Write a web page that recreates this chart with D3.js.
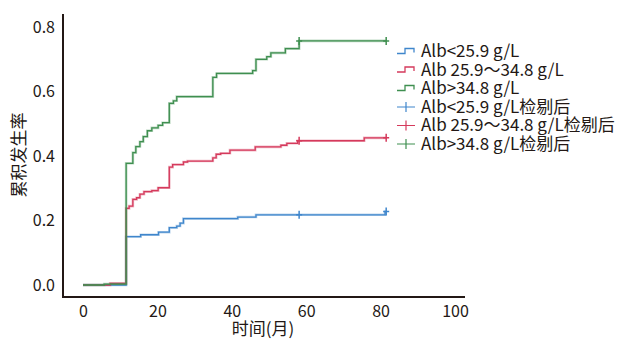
<!DOCTYPE html>
<html>
<head>
<meta charset="utf-8">
<script src="https://cdn.jsdelivr.net/npm/d3@7"></script>
<style>
  body { margin: 0; background: #fff; }
  svg { display: block; }
  text { font-family: "Noto Sans CJK SC", "Noto Sans", sans-serif; fill: #231815; }
</style>
</head>
<body>
<div id="chart"></div>
<script>
// data
const xTicks = [0, 20, 40, 60, 80, 100]
const yTicks = [0.0, 0.2, 0.4, 0.6, 0.8]

const lowTime = [0, 11.6, 15.5, 20.3, 23.2, 25.2, 26.1, 27.0, 41.6, 46.5, 81.2, 81.5]
const lowRate = [0, 0.150, 0.156, 0.164, 0.178, 0.183, 0.192, 0.206, 0.211, 0.218, 0.228, 0.228]

const midTime = [0, 7.3, 11.6, 12.4, 13.4, 14.4, 15.3, 16.4, 18.5, 20.2, 23.2, 24.1, 27.0, 28.1, 34.9, 35.8, 37.0, 39.5, 46.3, 53.2, 54.8, 57.7, 75.6, 81.5]
const midRate = [0, 0.005, 0.238, 0.245, 0.266, 0.271, 0.282, 0.290, 0.293, 0.302, 0.366, 0.374, 0.382, 0.385, 0.395, 0.406, 0.409, 0.419, 0.429, 0.434, 0.440, 0.448, 0.457, 0.457]

const highTime = [0, 5.7, 11.6, 13.4, 14.2, 15.3, 16.2, 17.3, 18.5, 20.2, 21.4, 23.2, 24.3, 25.2, 34.9, 35.9, 45.6, 46.5, 49.4, 50.5, 54.4, 58.1, 81.5]
const highRate = [0, 0.003, 0.378, 0.411, 0.430, 0.445, 0.461, 0.479, 0.488, 0.496, 0.504, 0.564, 0.572, 0.585, 0.645, 0.657, 0.666, 0.701, 0.709, 0.721, 0.734, 0.758, 0.758]

const lowCensorTime = [58.1, 81.5]
const lowCensorRate = [0.218, 0.228]
const midCensorTime = [58.1, 81.5]
const midCensorRate = [0.448, 0.457]
const highCensorTime = [58.1, 81.5]
const highCensorRate = [0.758, 0.758]

const groupNames = ['Alb<25.9 g/L', 'Alb 25.9～34.8 g/L', 'Alb>34.8 g/L']
const groupColors = ['#3f86cc', '#d53a5c', '#3f8f50']

const width = 620
const height = 339

const svg = d3.select('#chart')
  .append('svg')
  .attr('width', width)
  .attr('height', height)

const x = d3.scaleLinear().domain([0, 100]).range([83, 455])
const y = d3.scaleLinear().domain([0, 0.8]).range([285, 27.4])

// axes: labels only, the axis lines are drawn by hand below
const xAxis = svg.append('g')
  .attr('transform', 'translate(0,297)')
  .call(d3.axisBottom(x).tickValues(xTicks).tickSize(0).tickPadding(9).tickFormat(d3.format('d')))
xAxis.select('.domain').remove()
xAxis.selectAll('text').style('font-size', '16px')

const yAxis = svg.append('g')
  .attr('transform', 'translate(63,0)')
  .call(d3.axisLeft(y).tickValues(yTicks).tickSize(0).tickPadding(8).tickFormat(d3.format('.1f')))
yAxis.select('.domain').remove()
yAxis.selectAll('text').style('font-size', '16px')

svg.append('line')
  .attr('x1', 63).attr('x2', 63)
  .attr('y1', 14).attr('y2', 298)
  .attr('stroke', '#231815').attr('stroke-width', 2)
svg.append('line')
  .attr('x1', 62).attr('x2', 465)
  .attr('y1', 297).attr('y2', 297)
  .attr('stroke', '#231815').attr('stroke-width', 2)

svg.append('text')
  .attr('x', 263).attr('y', 335)
  .attr('text-anchor', 'middle')
  .style('font-size', '17px')
  .text('时间(月)')

svg.append('text')
  .attr('transform', 'translate(25,155) rotate(-90)')
  .attr('text-anchor', 'middle')
  .style('font-size', '17px')
  .text('累积发生率')

// step curves
const series = [
  { t: lowTime, r: lowRate, ct: lowCensorTime, cr: lowCensorRate },
  { t: midTime, r: midRate, ct: midCensorTime, cr: midCensorRate },
  { t: highTime, r: highRate, ct: highCensorTime, cr: highCensorRate }
]

const line = d3.line()
  .x(d => x(d[0]))
  .y(d => y(d[1]))
  .curve(d3.curveStepAfter)

const curves = svg.append('g').attr('class', 'curves')

series.forEach((s, i) => {
  const pts = s.t.map((t, k) => [t, s.r[k]])
  curves.append('path')
    .attr('d', line(pts))
    .attr('fill', 'none')
    .attr('stroke', groupColors[i])
    .attr('stroke-opacity', 0.35)
    .attr('stroke-width', 2.6)
  curves.append('path')
    .attr('d', line(pts))
    .attr('fill', 'none')
    .attr('stroke', groupColors[i])
    .attr('stroke-width', 1.3)

  // censor marks
  s.ct.forEach((t, k) => {
    const cx = x(t)
    const cy = y(s.cr[k])
    curves.append('path')
      .attr('d', `M${cx - 3},${cy}H${cx + 3}M${cx},${cy - 4}V${cy + 4}`)
      .attr('stroke', groupColors[i])
      .attr('stroke-width', 1.5)
      .attr('fill', 'none')
  })
})

// legend
const legend = svg.append('g').attr('class', 'legend')
const legendY = [51.5, 70, 88.5, 107, 125.5, 144]
const legendLabels = groupNames.concat(groupNames.map(n => n + '检剔后'))

legendLabels.forEach((label, i) => {
  const ly = legendY[i]
  const c = groupColors[i % 3]
  if (i < 3) {
    legend.append('path')
      .attr('d', `M397,${ly + 2}H405V${ly - 3}H414V${ly + 1}`)
      .attr('fill', 'none')
      .attr('stroke', c)
      .attr('stroke-width', 1.3)
  } else {
    legend.append('path')
      .attr('d', `M397,${ly}H415M406,${ly - 5}V${ly + 5}`)
      .attr('fill', 'none')
      .attr('stroke', c)
      .attr('stroke-width', 1.2)
  }
  legend.append('text')
    .attr('x', 421)
    .attr('y', ly)
    .attr('dy', '0.35em')
    .style('font-size', '17px')
    .text(label)
})
</script>
</body>
</html>
